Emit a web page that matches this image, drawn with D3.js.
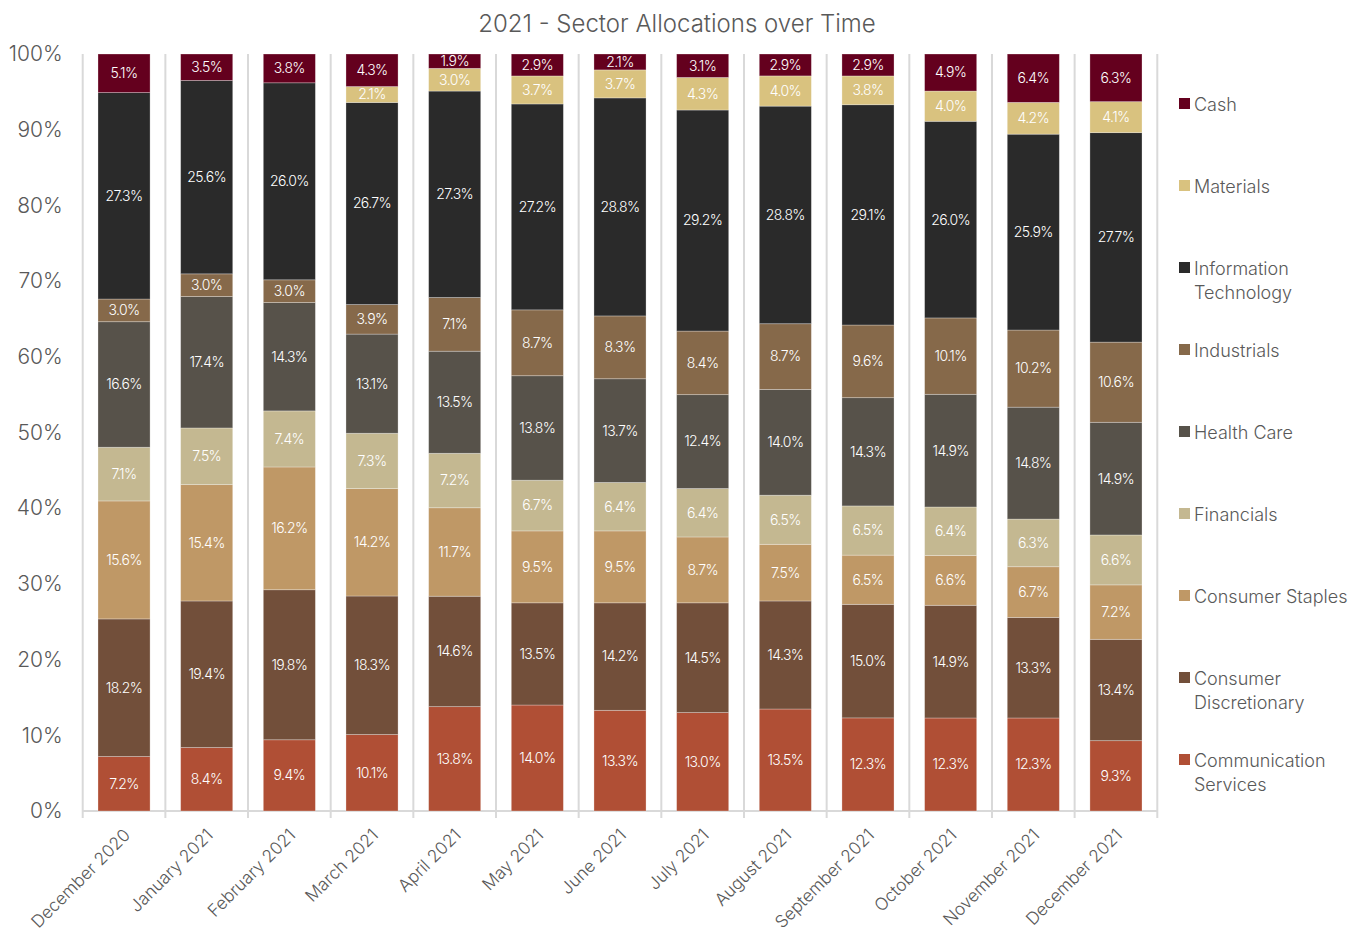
<!DOCTYPE html>
<html>
<head>
<meta charset="utf-8">
<script src="https://cdn.jsdelivr.net/npm/d3@7"></script>
<style>
  html, body { margin: 0; padding: 0; background: #fff; }
  svg { display: block; font-family: Inter, "Noto Sans", sans-serif; font-weight: 300; }
</style>
</head>
<body>
<svg id="chart" width="1362" height="933"></svg>
<script>
const months = ["December 2020","January 2021","February 2021","March 2021","April 2021","May 2021","June 2021","July 2021","August 2021","September 2021","October 2021","November 2021","December 2021"];
const sectors = ["Communication Services","Consumer Discretionary","Consumer Staples","Financials","Health Care","Industrials","Information Technology","Materials","Cash"];
const colors = ["#b04f35","#724f3a","#bf9866","#c4b891","#57524a","#86694a","#2a2a2a","#d9c27f","#64001e"];
const communicationServices = [7.2, 8.4, 9.4, 10.1, 13.8, 14.0, 13.3, 13.0, 13.5, 12.3, 12.3, 12.3, 9.3];
const consumerDiscretionary = [18.2, 19.4, 19.8, 18.3, 14.6, 13.5, 14.2, 14.5, 14.3, 15.0, 14.9, 13.3, 13.4];
const consumerStaples = [15.6, 15.4, 16.2, 14.2, 11.7, 9.5, 9.5, 8.7, 7.5, 6.5, 6.6, 6.7, 7.2];
const financials = [7.1, 7.5, 7.4, 7.3, 7.2, 6.7, 6.4, 6.4, 6.5, 6.5, 6.4, 6.3, 6.6];
const healthCare = [16.6, 17.4, 14.3, 13.1, 13.5, 13.8, 13.7, 12.4, 14.0, 14.3, 14.9, 14.8, 14.9];
const industrials = [3.0, 3.0, 3.0, 3.9, 7.1, 8.7, 8.3, 8.4, 8.7, 9.6, 10.1, 10.2, 10.6];
const informationTechnology = [27.3, 25.6, 26.0, 26.7, 27.3, 27.2, 28.8, 29.2, 28.8, 29.1, 26.0, 25.9, 27.7];
const materials = [0, 0, 0, 2.1, 3.0, 3.7, 3.7, 4.3, 4.0, 3.8, 4.0, 4.2, 4.1];
const cash = [5.1, 3.5, 3.8, 4.3, 1.9, 2.9, 2.1, 3.1, 2.9, 2.9, 4.9, 6.4, 6.3];
const yTicks = [0, 10, 20, 30, 40, 50, 60, 70, 80, 90, 100];
const title = "2021 - Sector Allocations over Time";

const seriesValues = [communicationServices, consumerDiscretionary, consumerStaples, financials, healthCare, industrials, informationTechnology, materials, cash];

const rows = months.map((m, i) => {
  const r = { month: m };
  sectors.forEach((s, k) => { r[s] = seriesValues[k][i]; });
  return r;
});

const svg = d3.select("#chart");
const margin = { left: 82.7, right: 1362 - 1157.3, top: 54, bottom: 933 - 811 };
const W = 1362, H = 933;
const x = d3.scaleBand().domain(months).range([margin.left, W - margin.right]).paddingInner(0.37).paddingOuter(0.185);
const y = d3.scaleLinear().domain([0, 100]).range([H - margin.bottom, margin.top]);
const color = d3.scaleOrdinal().domain(sectors).range(colors);

const stack = d3.stack().keys(sectors).offset(d3.stackOffsetExpand);
const stacked = stack(rows);

// title
svg.append("text").attr("x", 677).attr("y", 32).attr("text-anchor", "middle")
  .attr("fill", "#595959").attr("font-size", 24).text(title);

// vertical separators (category boundaries)
const step = x.step();
const bounds = d3.range(months.length + 1).map(i => margin.left + i * step);
svg.append("g").selectAll("line").data(bounds).join("line")
  .attr("x1", d => d).attr("x2", d => d)
  .attr("y1", y(100)).attr("y2", y(0) + 7)
  .attr("stroke", "#d9d9d9").attr("stroke-width", 2);

// x axis line
svg.append("line").attr("x1", margin.left).attr("x2", W - margin.right)
  .attr("y1", y(0)).attr("y2", y(0)).attr("stroke", "#d9d9d9").attr("stroke-width", 2);

// y axis labels
const yAxis = d3.axisLeft(y).tickValues(yTicks).tickFormat(d => d + "%").tickSize(0).tickPadding(20);
const yg = svg.append("g").attr("transform", `translate(${margin.left},0)`).call(yAxis);
yg.select(".domain").remove();
yg.selectAll("text").attr("fill", "#595959").attr("font-size", 21).attr("font-family", "Inter, sans-serif").attr("font-weight", 300);

// bars
const layers = svg.append("g").selectAll("g").data(stacked).join("g").attr("fill", d => color(d.key));
layers.selectAll("rect").data(d => d.map(p => ({ p, key: d.key }))).join("rect")
  .attr("x", d => x(d.p.data.month))
  .attr("width", x.bandwidth())
  .attr("y", d => y(d.p[1] * 100))
  .attr("height", d => Math.max(0, y(d.p[0] * 100) - y(d.p[1] * 100)))
  .attr("stroke", "rgba(255,255,255,0.35)").attr("stroke-width", 0.8);

// labels
layers.selectAll("text").data(d => d.filter(p => p.data[d.key] > 0).map(p => ({ p, key: d.key }))).join("text")
  .attr("x", d => x(d.p.data.month) + x.bandwidth() / 2)
  .attr("y", d => y((d.p[0] + d.p[1]) / 2 * 100))
  .attr("dy", "0.35em")
  .attr("text-anchor", "middle")
  .attr("fill", "#fff")
  .attr("font-size", 14)
  .attr("letter-spacing", -0.6)
  .text(d => d.p.data[d.key].toFixed(1) + "%");

// x labels
const xg = svg.append("g").attr("transform", `translate(0,${y(0)})`);
xg.selectAll("text").data(months).join("text")
  .attr("transform", d => `translate(${x(d) + x.bandwidth() / 2 + 3},${21}) rotate(-45)`)
  .attr("text-anchor", "end")
  .attr("dy", "0.35em")
  .attr("fill", "#595959")
  .attr("font-size", 17.3)
  .text(d => d);

// legend
const legendItems = sectors.slice().reverse().map((s, i) => ({ s, c: color(s), i }));
const legendLines = {
  "Information Technology": ["Information", "Technology"],
  "Consumer Discretionary": ["Consumer", "Discretionary"],
  "Communication Services": ["Communication", "Services"]
};
const lg = svg.append("g").selectAll("g").data(legendItems).join("g")
  .attr("transform", d => `translate(1179,${105 + d.i * 82})`);
lg.append("rect").attr("x", 0).attr("y", -7).attr("width", 11).attr("height", 11).attr("fill", d => d.c);
lg.append("text").attr("fill", "#595959").attr("font-size", 18)
  .selectAll("tspan").data(d => legendLines[d.s] || [d.s]).join("tspan")
  .attr("x", 15).attr("y", (d, j) => j * 24).attr("dy", "0.35em").text(d => d);
</script>
</body>
</html>
